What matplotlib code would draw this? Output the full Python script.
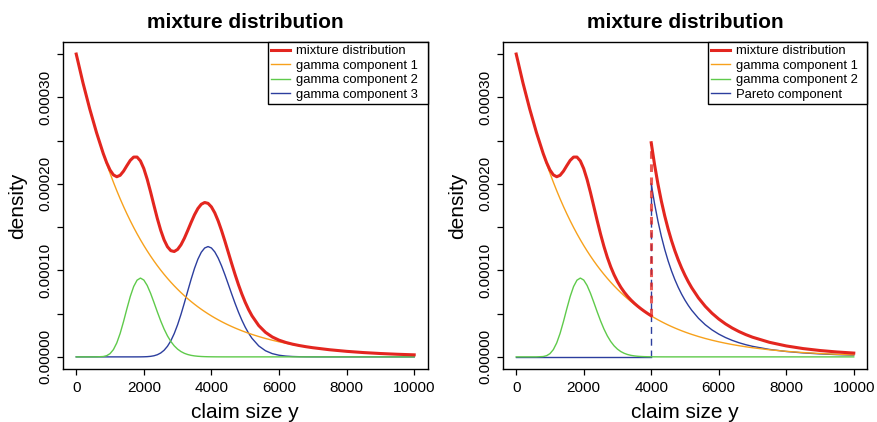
import matplotlib.pyplot as plt

plt.rcParams["font.family"] = ["Liberation Sans", "DejaVu Sans"]

# claim sizes y at which the densities are given
y_grid = [0, 200, 400, 600, 800] + list(range(900, 5300, 100)) \
    + list(range(5400, 7200, 200)) + list(range(7500, 10500, 500))

scale = 1e-5  # all densities below are in units of 1e-5

# component densities (weighted), same grid as y_grid
gamma1 = [35.000, 31.669, 28.656, 25.929, 23.461,
          22.317, 21.229, 20.193, 19.208, 18.272, 17.380, 16.533, 15.727, 14.960, 14.230,
          13.536, 12.876, 12.248, 11.650, 11.082, 10.542, 10.028, 9.539, 9.073, 8.631,
          8.210, 7.810, 7.429, 7.066, 6.722, 6.394, 6.082, 5.785, 5.503, 5.235,
          4.980, 4.737, 4.506, 4.286, 4.077, 3.878, 3.689, 3.509, 3.338, 3.175,
          3.020, 2.873, 2.733, 2.600,
          2.352, 2.128, 1.926, 1.743, 1.577, 1.427, 1.291, 1.168, 1.057,
          0.823, 0.641, 0.499, 0.389, 0.303, 0.236]
gamma2 = [0.0, 0.0, 0.0, 0.001, 0.040,
          0.137, 0.373, 0.840, 1.614, 2.716, 4.085, 5.574, 6.989, 8.133, 8.865,
          9.110, 8.882, 8.256, 7.351, 6.293, 5.197, 4.153, 3.218, 2.425, 1.780,
          1.276, 0.894, 0.613, 0.412, 0.272, 0.177, 0.113, 0.071, 0.044, 0.027,
          0.016, 0.010, 0.006, 0.003, 0.002, 0.001, 0.0, 0.0, 0.0, 0.0,
          0.0, 0.0, 0.0, 0.0,
          0.0, 0.0, 0.0, 0.0, 0.0, 0.0, 0.0, 0.0, 0.0,
          0.0, 0.0, 0.0, 0.0, 0.0, 0.0]
gamma3 = [0.0, 0.0, 0.0, 0.0, 0.0,
          0.0, 0.0, 0.0, 0.0, 0.0, 0.0, 0.0, 0.0, 0.0, 0.001,
          0.003, 0.011, 0.027, 0.062, 0.129, 0.249, 0.451, 0.765, 1.227, 1.864,
          2.695, 3.719, 4.916, 6.237, 7.618, 8.976, 10.232, 11.290, 12.092, 12.583,
          12.750, 12.589, 12.132, 11.424, 10.522, 9.489, 8.386, 7.269, 6.186, 5.173,
          4.253, 3.440, 2.739, 2.149,
          1.268, 0.709, 0.377, 0.191, 0.093, 0.043, 0.020, 0.008, 0.003,
          0.0, 0.0, 0.0, 0.0, 0.0, 0.0]
mix_gamma = [35.000, 31.669, 28.656, 25.930, 23.501,
             22.454, 21.602, 21.033, 20.822, 20.988, 21.465, 22.107, 22.716, 23.093, 23.096,
             22.649, 21.769, 20.531, 19.063, 17.504, 15.988, 14.632, 13.522, 12.725, 12.275,
             12.181, 12.423, 12.958, 13.715, 14.612, 15.547, 16.427, 17.146, 17.639, 17.845,
             17.746, 17.336, 16.644, 15.713, 14.601, 13.368, 12.075, 10.778, 9.524, 8.348,
             7.273, 6.313, 5.472, 4.749,
             3.620, 2.837, 2.303, 1.934, 1.670, 1.470, 1.311, 1.176, 1.060,
             0.823, 0.641, 0.499, 0.389, 0.303, 0.236]

# spliced model: gamma body below the threshold, Pareto tail above it
threshold = 4000
y_body = y_grid[:37]
y_tail = y_grid[36:]
mix_body = [35.000, 31.669, 28.656, 25.930, 23.501,
            22.454, 21.602, 21.033, 20.822, 20.988, 21.465, 22.107, 22.716, 23.093, 23.095,
            22.646, 21.758, 20.504, 19.001, 17.375, 15.739, 14.181, 12.757, 11.498, 10.411,
            9.486, 8.704, 8.042, 7.478, 6.994, 6.571, 6.195, 5.856, 5.547, 5.262,
            4.996, 4.747]
pareto = [20.000, 17.677, 15.671, 13.931, 12.418, 11.099, 9.944, 8.930, 8.038, 7.250,
          6.554, 5.936, 5.387,
          4.460, 3.719, 3.121, 2.634, 2.236, 1.907, 1.635, 1.409, 1.219,
          0.863, 0.625, 0.461, 0.347, 0.265, 0.205]
mix_tail = [24.747, 22.189, 19.960, 18.010, 16.297, 14.788, 13.453, 12.268, 11.213, 10.270,
            9.427, 8.669, 7.987,
            6.812, 5.847, 5.047, 4.377, 3.813, 3.334, 2.926, 2.577, 2.276,
            1.686, 1.266, 0.960, 0.736, 0.568, 0.441]

x_ticks = [0, 2000, 4000, 6000, 8000, 10000]
y_ticks = [0, 0.00005, 0.0001, 0.00015, 0.0002, 0.00025, 0.0003, 0.00035]
y_labels = ["0.00000", "", "0.00010", "", "0.00020", "", "0.00030", ""]

RED = "#e3261f"
ORANGE = "#f7a11c"
GREEN = "#5fca4b"
BLUE = "#2c3e9e"


def sc(vals):
    return [v * scale for v in vals]


def style_axis(ax):
    ax.set_xlim(-400, 10400)
    ax.set_ylim(-0.000014, 0.000364)
    ax.set_xticks(x_ticks)
    ax.set_xticklabels([str(t) for t in x_ticks])
    ax.set_yticks(y_ticks)
    ax.set_yticklabels(y_labels, rotation=90, va="center")
    ax.tick_params(direction="out", length=4.5, width=0.9, labelsize=11)
    ax.tick_params(axis="x", pad=4)
    ax.tick_params(axis="y", pad=3)
    for s in ax.spines.values():
        s.set_linewidth(1.0)
    ax.set_xlabel("claim size y", fontsize=15, labelpad=6)
    ax.set_ylabel("density", fontsize=15, labelpad=8)
    ax.set_title("mixture distribution", fontsize=15, fontweight="bold", pad=10)
    # legend box pinned to the top right corner, fixed width
    leg = ax.legend(loc="upper right", bbox_to_anchor=(1 - 0.438, 0, 0.438, 1),
                    mode="expand", borderaxespad=0, fontsize=9.4,
                    handlelength=1.45, handletextpad=0.45, labelspacing=0.18,
                    borderpad=0.25, fancybox=False, edgecolor="black", framealpha=1)
    leg.get_frame().set_linewidth(1.0)


fig = plt.figure(figsize=(8.77, 4.22), dpi=100)
ax1 = fig.add_axes([0.0715, 0.1256, 0.4162, 0.775])
ax2 = fig.add_axes([0.5732, 0.1256, 0.4157, 0.775])

# left: mixture of three gamma densities
ax1.plot(y_grid, sc(mix_gamma), color=RED, lw=2.2, zorder=5, label="mixture distribution")
ax1.plot(y_grid, sc(gamma1), color=ORANGE, lw=1.0, zorder=4, label="gamma component 1")
ax1.plot(y_grid, sc(gamma2), color=GREEN, lw=1.0, zorder=3, label="gamma component 2")
ax1.plot(y_grid, sc(gamma3), color=BLUE, lw=1.0, zorder=2, label="gamma component 3")
style_axis(ax1)

# right: two gammas plus a Pareto tail starting at the threshold
ax2.plot(y_body, sc(mix_body), color=RED, lw=2.2, zorder=5, label="mixture distribution")
ax2.plot(y_grid, sc(gamma1), color=ORANGE, lw=1.0, zorder=4, label="gamma component 1")
ax2.plot(y_grid, sc(gamma2), color=GREEN, lw=1.0, zorder=3, label="gamma component 2")
ax2.plot(y_tail, sc(pareto), color=BLUE, lw=1.0, zorder=2, label="Pareto component")
ax2.plot(y_tail, sc(mix_tail), color=RED, lw=2.2, zorder=5)
ax2.plot([y_grid[0], threshold], [0, 0], color=BLUE, lw=1.0, zorder=2)
ax2.plot([threshold, threshold], [0, pareto[0] * scale], color=BLUE, lw=1.0,
         dashes=(5, 3.5), zorder=2)
ax2.plot([threshold, threshold], [mix_body[-1] * scale, mix_tail[0] * scale],
         color=RED, lw=2.2, alpha=0.75, dashes=(2.5, 1.8), zorder=5)
style_axis(ax2)

fig.savefig("out.png", dpi=100)
